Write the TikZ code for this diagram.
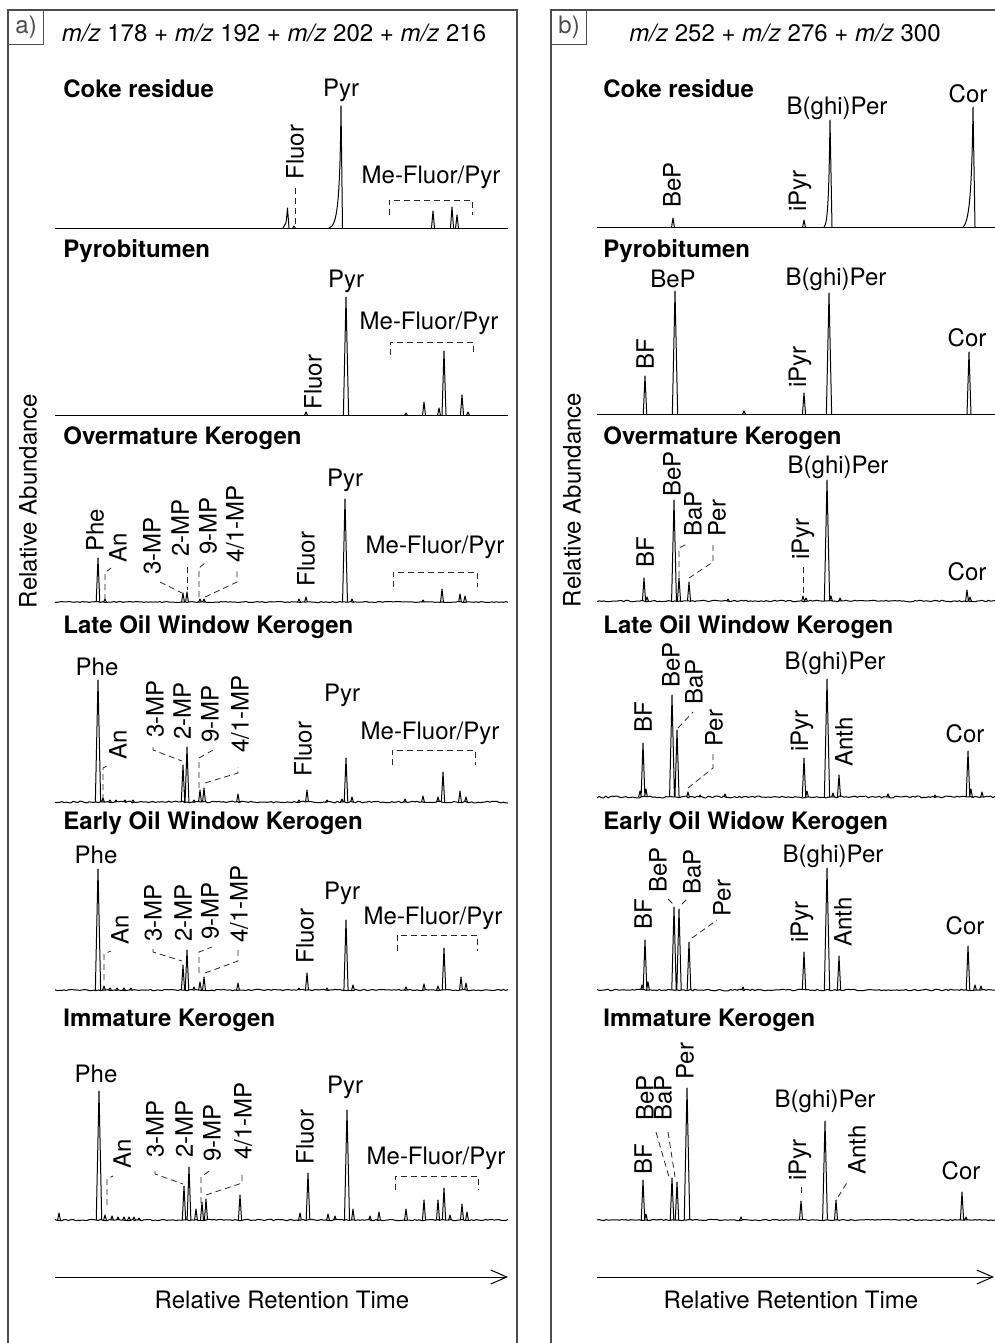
\documentclass[tikz,border=0pt]{standalone}
\usepackage{fontspec}
\setmainfont{TeX Gyre Heros}
\usetikzlibrary{arrows.meta}

\begin{document}
\begin{tikzpicture}[x=0.5pt, y=-0.5pt,
    trace/.style={line width=0.5pt, line join=round},
    frame/.style={line width=0.6pt, black!70},
    leader/.style={line width=0.4pt, black!85, dash pattern=on 3pt off 2pt},
    lbl/.style={font=\fontsize{12}{14}\selectfont, inner sep=0pt},
    vlbl/.style={lbl, rotate=90, anchor=west},
    ttl/.style={font=\fontsize{12}{14}\selectfont\bfseries, inner sep=0pt, anchor=west},
    tag/.style={frame, draw, lbl, minimum width=17.5pt, minimum height=17pt, anchor=north west},
    axis/.style={trace, -{Straight Barb[length=8pt, width=7pt]}},]
    \useasboundingbox (0,0) rectangle (995,1343);
    \pgfmathsetseed{3}

    %Frames
    \draw[frame] (8,1343) |- (517,10) -- (517,1343);
    \draw[frame] (551,1343) |- (995,10);
    \node[tag](taga) at (8,10){a)};
    \node[tag](tagb) at (551,10){b)};
    \node[lbl](mza) at (274,33){\textit{m/z} 178 + \textit{m/z} 192 + \textit{m/z} 202 + \textit{m/z} 216};
    \node[lbl](mzb) at (785,33){\textit{m/z} 252 + \textit{m/z} 276 + \textit{m/z} 300};
    \node[lbl, rotate=90](abunda) at (28,501){Relative Abundance};
    \node[lbl, rotate=90](abundb) at (572,500){Relative Abundance};
    \coordinate (ta0) at (55,1277);
    \coordinate (ta1) at (508,1277);
    \coordinate (tb0) at (597,1277);
    \coordinate (tb1) at (994,1277);
    \draw[axis] (ta0) -- (ta1);
    \draw[axis] (tb0) -- (tb1);
    \node[lbl](timea) at (282,1300){Relative Retention Time};
    \node[lbl](timeb) at (791,1300){Relative Retention Time};

    %Panel a: Coke residue
    \node[ttl](cokea) at (63,89){Coke residue};
    \draw[trace] (55,228) -- (508,228);
    \draw[trace] (283,228) .. controls (286,225) .. (287.5,208) -- (289,228);
    \draw[trace] (329,228) .. controls (337,226) and (340,205) .. (341,106) -- (342.5,228);
    \draw[trace] \foreach \x/\h [evaluate=\h as \w using 1.3+\h/90] in {294/2, 433/17, 452/21, 457/13}
        {(\x-\w,228) -- (\x,228-\h) -- (\x+\w,228)};
    \node[vlbl](cokea_fluor) at (295,180){Fluor};
    \node[lbl](cokea_pyr) at (341,90){Pyr};
    \node[lbl](cokea_me) at (431,177){Me-Fluor/Pyr};
    \draw[leader] (295,188) -- (295,226);
    \draw[leader] (389,215) |- (472,200) -- (472,215);

    %Panel a: Pyrobitumen
    \node[ttl](pyroa) at (63,251){Pyrobitumen};
    \draw[trace] (55,415) -- (508,415);
    \draw[trace] \foreach \x/\h [evaluate=\h as \w using 1.3+\h/90] in {306/3, 346/118, 406/2, 424/13, 439/7, 444/64, 462/20, 468/3}
        {(\x-\w,415) -- (\x,415-\h) -- (\x+\w,415)};
    \node[vlbl](pyroa_fluor) at (313,410){Fluor};
    \node[lbl](pyroa_pyr) at (346,281){Pyr};
    \node[lbl](pyroa_me) at (429,323){Me-Fluor/Pyr};
    \draw[leader] (390,355) |- (473,342) -- (473,355);

    %Panel a: Overmature Kerogen
    \node[ttl](overa) at (63,438){Overmature Kerogen};
    \draw[trace] plot[domain=55:508, samples=200] (\x,{602+0.5*rand});
    \draw[trace] \foreach \x/\h [evaluate=\h as \w using 1.3+\h/90] in {98/44, 105/3, 183/9, 187/10, 200/3, 204/3, 299/3, 306/5, 345/103, 352/3, 423/2, 442/13, 460/8, 465/6}
        {(\x-\w,602) -- (\x,602-\h) -- (\x+\w,602)};
    \node[vlbl](overa_phe) at (95,552){Phe};
    \node[vlbl](overa_an) at (118,563){An};
    \node[vlbl](overa_3mp) at (152,575){3-MP};
    \node[vlbl](overa_2mp) at (180,557){2-MP};
    \node[vlbl](overa_9mp) at (208,555){9-MP};
    \node[vlbl](overa_41mp) at (235,563){4/1-MP};
    \node[vlbl](overa_fluor) at (306,587){Fluor};
    \node[lbl](overa_pyr) at (345,480){Pyr};
    \node[lbl](overa_me) at (435,547){Me-Fluor/Pyr};
    \draw[leader] (105,600) -- (105,573) -- (111,568);
    \draw[leader] (160,582) -- (182,593);
    \draw[leader] (187,567) -- (187,590);
    \draw[leader] (199,597) -- (199,568) -- (205,563);
    \draw[leader] (205,597) -- (237,582) -- (237,570);
    \draw[leader] (393,587) |- (477,572) -- (477,587);

    %Panel a: Late Oil Window Kerogen
    \node[ttl](latea) at (63,627){Late Oil Window Kerogen};
    \draw[trace] plot[domain=55:508, samples=200] (\x,{802+0.9*rand});
    \draw[trace] \foreach \x/\h [evaluate=\h as \w using 1.3+\h/90] in {98/122, 103/4, 110/2, 116/2, 125/2, 133/2, 183/37, 187/55, 194/2, 200/12, 204/14, 238/8, 299/2, 307/12, 327/2, 342/3, 346/44, 352/5, 405/3, 423/6, 438/5, 443/30, 460/11, 466/5}
        {(\x-\w,802) -- (\x,802-\h) -- (\x+\w,802)};
    \node[lbl](latea_phe) at (97,667){Phe};
    \node[vlbl](latea_an) at (118,760){An};
    \node[vlbl](latea_3mp) at (155,738){3-MP};
    \node[vlbl](latea_2mp) at (182,740){2-MP};
    \node[vlbl](latea_9mp) at (210,743){9-MP};
    \node[vlbl](latea_41mp) at (240,753){4/1-MP};
    \node[vlbl](latea_fluor) at (303,777){Fluor};
    \node[lbl](latea_pyr) at (342,695){Pyr};
    \node[lbl](latea_me) at (430,733){Me-Fluor/Pyr};
    \draw[leader] (103,800) -- (103,768) -- (109,765);
    \draw[leader] (153,747) -- (153,750) -- (182,761);
    \draw[leader] (199,788) -- (199,758) -- (213,750);
    \draw[leader] (205,783) -- (238,773) -- (238,767);
    \draw[leader] (392,765) |- (475,750) -- (475,765);

    %Panel a: Early Oil Window Kerogen
    \node[ttl](earlya) at (63,823.5){Early Oil Window Kerogen};
    \draw[trace] plot[domain=55:508, samples=200] (\x,{990+0.7*rand});
    \draw[trace] \foreach \x/\h [evaluate=\h as \w using 1.3+\h/90] in {98/121, 104/4, 110/2, 117/2, 124/2, 131/2, 183/25, 187/40, 194/3, 200/8, 204/13, 238/7, 299/2, 307/17, 327/2, 346/70, 353/5, 406/3, 424/6, 438/4, 444/42, 461/13, 466/7}
        {(\x-\w,990) -- (\x,990-\h) -- (\x+\w,990)};
    \node[lbl](earlya_phe) at (96,855){Phe};
    \node[vlbl](earlya_an) at (120,945){An};
    \node[vlbl](earlya_3mp) at (153,942){3-MP};
    \node[vlbl](earlya_2mp) at (183,942){2-MP};
    \node[vlbl](earlya_9mp) at (210,940){9-MP};
    \node[vlbl](earlya_41mp) at (239,943){4/1-MP};
    \node[vlbl](earlya_fluor) at (305,964){Fluor};
    \node[lbl](earlya_pyr) at (342,893.5){Pyr};
    \node[lbl](earlya_me) at (433,918){Me-Fluor/Pyr};
    \draw[leader] (104,980) -- (104,954) -- (111,951);
    \draw[leader] (153,949) -- (153,952) -- (182,961);
    \draw[leader] (199,973) -- (199,952) -- (212,947);
    \draw[leader] (205,973) -- (238,961) -- (238,949);
    \draw[leader] (397,951) |- (477,935) -- (477,951);

    %Panel a: Immature Kerogen
    \node[ttl](imma) at (63,1020){Immature Kerogen};
    \draw[trace] plot[domain=55:508, samples=200] (\x,{1220+0.7*rand});
    \draw[trace] \foreach \x/\h [evaluate=\h as \w using 1.3+\h/90] in {59/7, 99/129, 105/5, 112/4, 118/3, 124/3, 129/3, 134/3, 139/2, 184/34, 189/53, 196/11, 202/18, 206/21, 240/25, 300/7, 308/47, 328/6, 335/4, 347/110, 353/11, 370/4, 379/8, 406/11, 424/20, 438/20, 444/32, 450/5, 462/16, 467/8}
        {(\x-\w,1220) -- (\x,1220-\h) -- (\x+\w,1220)};
    \node[lbl](imma_phe) at (96,1074){Phe};
    \node[vlbl](imma_an) at (122,1169){An};
    \node[vlbl](imma_3mp) at (155,1158){3-MP};
    \node[vlbl](imma_2mp) at (184,1158){2-MP};
    \node[vlbl](imma_9mp) at (212,1162){9-MP};
    \node[vlbl](imma_41mp) at (243,1160){4/1-MP};
    \node[vlbl](imma_fluor) at (305,1165){Fluor};
    \node[lbl](imma_pyr) at (345,1087){Pyr};
    \node[lbl](imma_me) at (436,1158){Me-Fluor/Pyr};
    \draw[leader] (107,1205) -- (107,1179) -- (113,1176);
    \draw[leader] (155,1171) -- (155,1174) -- (183,1184);
    \draw[leader] (201,1203) -- (201,1177) -- (212,1169);
    \draw[leader] (206,1195) -- (242,1183) -- (242,1172);
    \draw[leader] (395,1190) |- (478,1176) -- (478,1190);

    %Panel b: Coke residue
    \node[ttl](cokeb) at (603,89){Coke residue};
    \draw[trace] (597,227) -- (995,227);
    \draw[trace] (824,227) .. controls (828,224) and (829,190) .. (830,120) -- (832,227);
    \draw[trace] (963,227) .. controls (970,222) and (972,180) .. (973,107) -- (975,227);
    \draw[trace] \foreach \x/\h [evaluate=\h as \w using 1.3+\h/90] in {673/9, 804/7}
        {(\x-\w,227) -- (\x,227-\h) -- (\x+\w,227)};
    \node[vlbl](cokeb_bep) at (672,208){BeP};
    \node[vlbl](cokeb_ipyr) at (800,212){iPyr};
    \node[lbl](cokeb_bper) at (837,108){B(ghi)Per};
    \node[lbl](cokeb_cor) at (968,94){Cor};

    %Panel b: Pyrobitumen
    \node[ttl](pyrob) at (603,251){Pyrobitumen};
    \draw[trace] (597,414) -- (995,414);
    \draw[trace] \foreach \x/\h [evaluate=\h as \w using 1.3+\h/90] in {645/38, 675/123, 744/3, 804/21, 829/121, 969/62}
        {(\x-\w,414) -- (\x,414-\h) -- (\x+\w,414)};
    \node[vlbl](pyrob_bf) at (645,370){BF};
    \node[lbl](pyrob_bep) at (673,279){BeP};
    \node[vlbl](pyrob_ipyr) at (800,388){iPyr};
    \node[lbl](pyrob_bper) at (836,279){B(ghi)Per};
    \node[lbl](pyrob_cor) at (967,338){Cor};

    %Panel b: Overmature Kerogen
    \node[ttl](overb) at (603,438){Overmature Kerogen};
    \draw[trace] plot[domain=597:995, samples=180] (\x,{601+0.8*rand});
    \draw[trace] \foreach \x/\h [evaluate=\h as \w using 1.3+\h/90] in {644/23, 647/4, 674/101, 679/23, 689/19, 728/2, 803/5, 806/3, 827/121, 831/5, 840/3, 967/11, 970/4}
        {(\x-\w,601) -- (\x,601-\h) -- (\x+\w,601)};
    \node[vlbl](overb_bf) at (645,568){BF};
    \node[vlbl](overb_bep) at (672,497){BeP};
    \node[vlbl](overb_bap) at (693,537){BaP};
    \node[vlbl](overb_per) at (717,537){Per};
    \node[vlbl](overb_ipyr) at (803,560){iPyr};
    \node[lbl](overb_bper) at (838,467){B(ghi)Per};
    \node[lbl](overb_cor) at (967,572){Cor};
    \draw[leader] (679,577) -- (679,548) -- (687,544);
    \draw[leader] (689,578) -- (713,562) -- (713,545);
    \draw[leader] (803,567) -- (803,597);

    %Panel b: Late Oil Window Kerogen
    \node[ttl](lateb) at (603,627){Late Oil Window Kerogen};
    \draw[trace] plot[domain=597:995, samples=180] (\x,{797+1.0*rand});
    \draw[trace] \foreach \x/\h [evaluate=\h as \w using 1.3+\h/90] in {640/6, 643/54, 646/8, 672/102, 677/67, 688/5, 700/2, 725/3, 804/39, 807/6, 827/118, 833/4, 839/22, 888/3, 935/2, 968/46, 971/8, 982/5}
        {(\x-\w,797) -- (\x,797-\h) -- (\x+\w,797)};
    \node[vlbl](lateb_bf) at (643,733){BF};
    \node[vlbl](lateb_bep) at (671,688){BeP};
    \node[vlbl](lateb_bap) at (694,705){BaP};
    \node[vlbl](lateb_per) at (714,747){Per};
    \node[vlbl](lateb_ipyr) at (802,752){iPyr};
    \node[lbl](lateb_bper) at (835,663){B(ghi)Per};
    \node[vlbl](lateb_anth) at (844,767){Anth};
    \node[lbl](lateb_cor) at (965,734){Cor};
    \draw[leader] (678,728) -- (693,712);
    \draw[leader] (688,788) -- (713,768) -- (713,750);

    %Panel b: Early Oil Widow Kerogen
    \node[ttl](earlyb) at (603,823.5){Early Oil Widow Kerogen};
    \draw[trace] plot[domain=597:995, samples=180] (\x,{990+0.8*rand});
    \draw[trace] \foreach \x/\h [evaluate=\h as \w using 1.3+\h/90] in {642/5, 645/50, 648/8, 674/83, 679/81, 689/48, 743/3, 804/38, 827/122, 839/34, 968/44, 975/5, 981/4}
        {(\x-\w,990) -- (\x,990-\h) -- (\x+\w,990)};
    \node[vlbl](earlyb_bf) at (643,930){BF};
    \node[vlbl](earlyb_bep) at (658,893){BeP};
    \node[vlbl](earlyb_bap) at (692,895){BaP};
    \node[vlbl](earlyb_per) at (722,917){Per};
    \node[vlbl](earlyb_ipyr) at (802,943){iPyr};
    \node[lbl](earlyb_bper) at (833,856){B(ghi)Per};
    \node[vlbl](earlyb_anth) at (843,947){Anth};
    \node[lbl](earlyb_cor) at (965,926){Cor};
    \draw[leader] (668,899) -- (673,904);
    \draw[leader] (682,904) -- (687,899);
    \draw[leader] (692,938) -- (717,920);

    %Panel b: Immature Kerogen
    \node[ttl](immb) at (603,1020){Immature Kerogen};
    \draw[trace] plot[domain=597:995, samples=180] (\x,{1220+0.6*rand});
    \draw[trace] \foreach \x/\h [evaluate=\h as \w using 1.3+\h/90] in {643/40, 646/6, 672/42, 677/38, 687/132, 741/3, 801/19, 825/99, 836/20, 962/28, 966/3}
        {(\x-\w,1220) -- (\x,1220-\h) -- (\x+\w,1220)};
    \node[vlbl](immb_bf) at (643,1175){BF};
    \node[vlbl](immb_bep) at (645,1121){BeP};
    \node[vlbl](immb_bap) at (663,1121){BaP};
    \node[vlbl](immb_per) at (685,1080){Per};
    \node[vlbl](immb_ipyr) at (800,1181){iPyr};
    \node[lbl](immb_bper) at (825,1101){B(ghi)Per};
    \node[vlbl](immb_anth) at (857,1175){Anth};
    \node[lbl](immb_cor) at (961,1171){Cor};
    \draw[leader] (656,1132) -- (669,1177);
    \draw[leader] (668,1132) -- (675,1177);
    \draw[leader] (801,1187) -- (801,1196);
    \draw[leader] (838,1197) -- (848,1181);

\end{tikzpicture}
\end{document}
